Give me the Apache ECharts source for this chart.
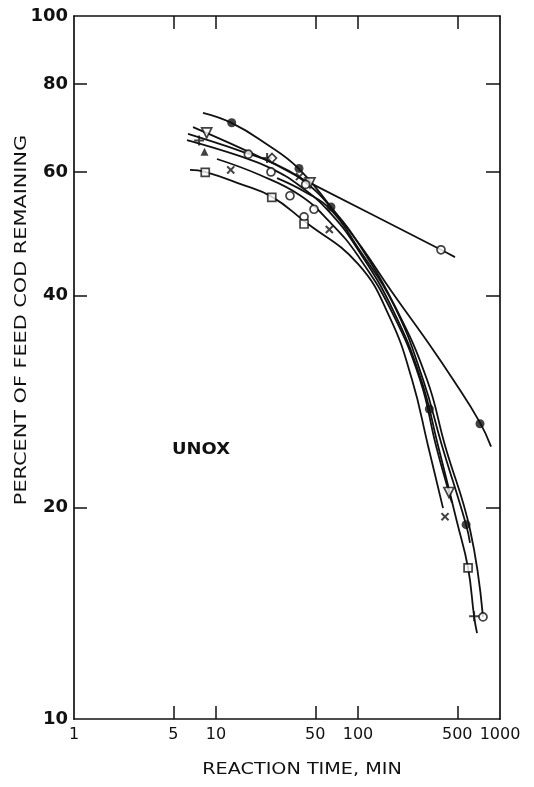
<!DOCTYPE html>
<html>
<head>
<meta charset="utf-8">
<script src="https://cdn.jsdelivr.net/npm/echarts@6/dist/echarts.min.js"></script>
<style>
  html, body { margin: 0; padding: 0; background: #fff; }
  #chart { width: 534px; height: 787px; }
</style>
</head>
<body>
<div id="chart"></div>
<script>
// Axis tick values (log scales)
const yLabelValues = [10, 20, 40, 60, 80, 100];
const yTickValues = [20, 40, 60, 80];
const xLabelValues = [1, 5, 10, 50, 100, 500, 1000];
const xTickValues = [5, 10, 50, 100, 500];

// Fitted curves: [reaction time (min), percent of feed COD remaining]
const curveTop = [[8.1,72.8],[12.96,70.4],[22.1,65.96],[37.8,60.8],[64.5,53.5],[106.7,46.8],[173.5,40.5],[296.5,34.8],[467,30.4],[723,26.4],[865,24.4]];
const curveFlat = [[6.89,69.5],[21.1,62.8],[45.9,57.9],[384,46.5],[482,45.4]];
const curveA = [[6.35,67.95],[14.76,64.3],[26.0,61.6],[42.4,58.05],[66.7,53.0],[103.3,47.1],[185,38.4],[306,30.4],[410,24.5],[615,18.6],[759,13.97]];
const curveB = [[6.25,66.6],[14.76,63.2],[24.0,60.8],[39.0,57.3],[63.5,52.5],[100,46.5],[176,38.2],[278,30.4],[366,24.5],[498,19.06],[596,16.4],[657,14.0],[689,13.25]];
const curveC = [[26.9,58.8],[42.4,56.2],[64.5,53.0],[100,46.8],[179,38.8],[287,30.4],[390,24.5],[577,18.9],[615,17.8]];
const curveD = [[10.16,62.6],[20.4,59.4],[39.0,55.6],[63.5,50.9],[100,45.6],[173.5,37.9],[273,30.4],[354,24.5],[437,21.0],[459,20.3]];
const curveE = [[6.56,60.4],[8.37,60.0],[14.76,57.7],[24.8,55.3],[41.7,51.1],[100,44.4],[168,37.2],[240,30.4],[311,24.5],[397,19.95]];

// Measured points by symbol
const filledCircles = [[12.9,70.5],[38.4,60.7],[64.5,53.5],[318,27.6],[577,18.9],[723,26.3]];
const openTrianglesDown = [[8.6,68.2],[45.9,57.9],[437,21.0]];
const plusPoints = [[7.6,66.5],[22.9,62.8],[657,14.0]];
const filledTriangles = [[8.3,64.1]];
const openCircles = [[16.9,63.6],[24.4,60.0],[33.2,55.5],[42.8,57.6],[49,53.1],[41.7,51.8],[384,46.5],[759,13.97]];
const crossPoints = [[12.7,60.4],[38.7,59.1],[62.8,49.7],[410,19.4]];
const openSquares = [[8.4,59.9],[24.7,55.2],[41.7,50.6],[596,16.4]];
const openDiamonds = [[24.8,62.8]];

const INK = '#111';
const FONT = 'DejaVu Sans';
const PLUS_PATH = 'path://M4,0H6V4H10V6H6V10H4V6H0V4H4Z';

function curve(data) {
  return {
    type: 'line', data: data, symbol: 'none', smooth: 0.45,
    lineStyle: { color: INK, width: 1.8 }, z: 2, silent: true
  };
}
function markers(data, symbol, size, opts) {
  const filled = opts && opts.filled;
  return Object.assign({
    type: 'scatter', data: data, symbol: symbol, symbolSize: size,
    itemStyle: filled ? { color: INK } : { color: '#fff', borderColor: INK, borderWidth: 1.7 },
    z: 5, silent: true
  }, opts && opts.extra);
}

const axisLineStyle = { lineStyle: { color: INK, width: 1.7 } };
const plainNumber = v => String(v);

const chart = echarts.init(document.getElementById('chart'), null, { renderer: 'canvas' });
chart.setOption({
  animation: false,
  backgroundColor: '#fff',
  grid: { left: 74, top: 16, width: 426, height: 703, containLabel: false },
  xAxis: [
    {
      type: 'log', logBase: 10, min: 1, max: 1000, position: 'bottom',
      axisLine: Object.assign({ show: true, onZero: false }, axisLineStyle),
      axisTick: { show: true, inside: true, length: 13, customValues: xTickValues, lineStyle: { color: INK, width: 1.5 } },
      axisLabel: { show: true, customValues: xLabelValues, formatter: plainNumber, margin: 8, color: INK, fontFamily: FONT, fontSize: 16 },
      splitLine: { show: false }, minorTick: { show: false }
    },
    {
      type: 'log', logBase: 10, min: 1, max: 1000, position: 'top',
      axisLine: Object.assign({ show: true, onZero: false }, axisLineStyle),
      axisTick: { show: true, inside: true, length: 13, customValues: xTickValues, lineStyle: { color: INK, width: 1.5 } },
      axisLabel: { show: false }, splitLine: { show: false }
    }
  ],
  yAxis: [
    {
      type: 'log', logBase: 10, min: 10, max: 100, position: 'left',
      axisLine: Object.assign({ show: true, onZero: false }, axisLineStyle),
      axisTick: { show: true, inside: true, length: 13, customValues: yTickValues, lineStyle: { color: INK, width: 1.5 } },
      axisLabel: { show: true, customValues: yLabelValues, formatter: plainNumber, margin: 6, color: INK, fontFamily: FONT, fontSize: 18, fontWeight: 'bold' },
      splitLine: { show: false }
    },
    {
      type: 'log', logBase: 10, min: 10, max: 100, position: 'right',
      axisLine: Object.assign({ show: true, onZero: false }, axisLineStyle),
      axisTick: { show: true, inside: true, length: 14, customValues: yTickValues, lineStyle: { color: INK, width: 1.5 } },
      axisLabel: { show: false }, splitLine: { show: false }
    }
  ],
  graphic: [
    { type: 'text', x: 302, y: 770, scaleX: 1.2, style: { text: 'REACTION TIME, MIN', font: '16px "DejaVu Sans"', fill: INK, align: 'center', verticalAlign: 'middle' } },
    { type: 'text', x: 22, y: 320, rotation: Math.PI / 2, scaleX: 1.3, style: { text: 'PERCENT OF FEED COD REMAINING', font: '16px "DejaVu Sans"', fill: INK, align: 'center', verticalAlign: 'middle' } },
    { type: 'text', x: 172, y: 450, scaleX: 1.12, style: { text: 'UNOX', font: 'bold 16px "DejaVu Sans"', fill: INK, verticalAlign: 'middle' } }
  ],
  series: [
    curve(curveTop), curve(curveFlat), curve(curveA), curve(curveB),
    curve(curveC), curve(curveD), curve(curveE),
    markers(filledCircles, 'circle', 9, { filled: true }),
    markers(openTrianglesDown, 'triangle', 10, { extra: { symbolRotate: 180 } }),
    markers(plusPoints, PLUS_PATH, 10, { filled: true }),
    markers(filledTriangles, 'triangle', 8, { filled: true }),
    markers(openCircles, 'circle', 8),
    markers(crossPoints, PLUS_PATH, 10, { filled: true, extra: { symbolRotate: 45 } }),
    markers(openSquares, 'rect', 8),
    markers(openDiamonds, 'diamond', 9)
  ]
});
</script>
</body>
</html>
